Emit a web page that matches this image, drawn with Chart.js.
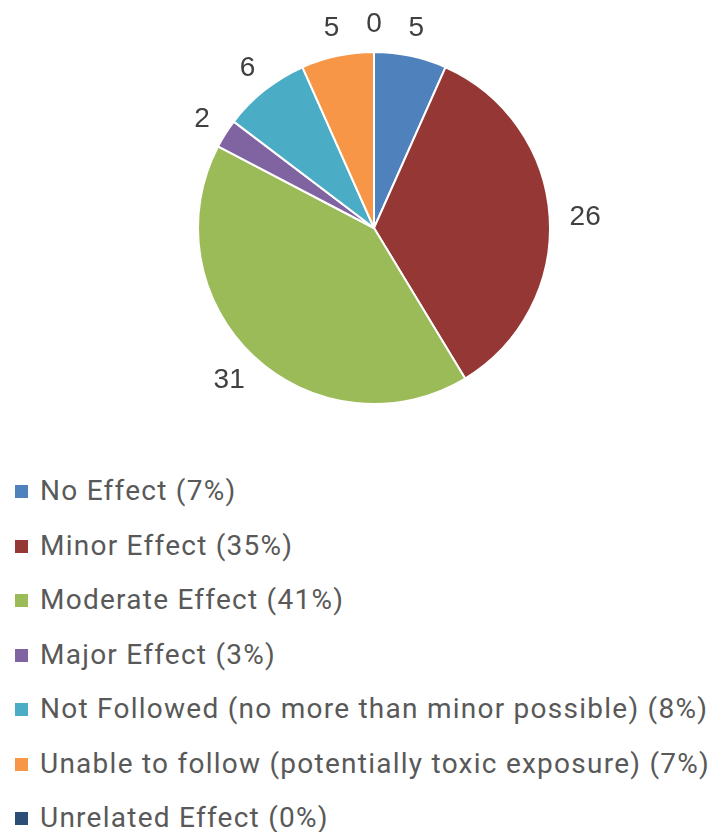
<!DOCTYPE html>
<html>
<head>
<meta charset="utf-8">
<script src="https://cdn.jsdelivr.net/npm/chart.js@4"></script>
<style>
  html, body { margin: 0; padding: 0; background: #fff; }
  #wrap { position: relative; width: 712px; height: 832px; }
  #pie-box { position: absolute; left: 0; top: 0; width: 712px; height: 460px; }
  #legend { position: absolute; left: 0; top: 464px; margin: 0; padding: 0; list-style: none; }
  #legend li {
    position: relative; height: 54.5px; line-height: 54.5px;
    font-family: Roboto, "Liberation Sans", sans-serif; font-size: 28px; color: #595959;
    letter-spacing: 1.25px;
    padding-left: 40px; white-space: nowrap;
  }
  #legend li span {
    position: absolute; left: 15px; top: 21px; width: 13px; height: 13px;
  }
</style>
</head>
<body>
<div id="wrap">
  <div id="pie-box"><canvas id="effectChart"></canvas></div>
  <ul id="legend"></ul>
</div>
<script>
// Categorías y conteos del gráfico
const categorias = [
    'No Effect',
    'Minor Effect',
    'Moderate Effect',
    'Major Effect',
    'Not Followed (no more than minor possible)',
    'Unable to follow (potentially toxic exposure)',
    'Unrelated Effect'
];
const conteos = [5, 26, 31, 2, 6, 5, 0];
const colores = ['#4f81bd', '#953735', '#9bbb59', '#8064a2', '#4bacc6', '#f79646', '#2c4d75'];

const total = conteos.reduce((a, b) => a + b, 0);

// Etiquetas de valor fuera de cada porción
const etiquetasFuera = {
    id: 'etiquetasFuera',
    afterDatasetsDraw(chart) {
        const ctx = chart.ctx;
        const meta = chart.getDatasetMeta(0);
        ctx.save();
        ctx.font = '28px "Liberation Sans", Arial, sans-serif';
        ctx.fillStyle = '#404040';
        ctx.textAlign = 'center';
        ctx.textBaseline = 'middle';
        meta.data.forEach((arc, i) => {
            const p = arc.getProps(['x', 'y', 'startAngle', 'endAngle', 'outerRadius']);
            const ang = (p.startAngle + p.endAngle) / 2;
            const dx = Math.cos(ang), dy = Math.sin(ang);
            const txt = String(conteos[i]);
            const w = ctx.measureText(txt).width;
            const h = 20;
            const r = p.outerRadius + 20;
            const x = p.x + dx * r + dx * w / 2;
            const y = p.y + dy * r + dy * h / 2;
            ctx.fillText(txt, x, y + 2);
        });
        ctx.restore();
    }
};

// Leyenda en HTML, una fila por categoría
const leyendaHtml = {
    id: 'leyendaHtml',
    afterUpdate(chart) {
        const ul = document.getElementById('legend');
        ul.innerHTML = '';
        const items = chart.options.plugins.legend.labels.generateLabels(chart);
        items.forEach((item, i) => {
            const li = document.createElement('li');
            const box = document.createElement('span');
            box.style.background = item.fillStyle;
            li.appendChild(box);
            const pct = Math.round(conteos[i] / total * 100);
            li.appendChild(document.createTextNode(categorias[i] + ' (' + pct + '%)'));
            ul.appendChild(li);
        });
    }
};

const ctxPie = document.getElementById('effectChart').getContext('2d');
new Chart(ctxPie, {
    type: 'pie',
    data: {
        labels: categorias,
        datasets: [{
            data: conteos,
            backgroundColor: colores,
            borderColor: '#ffffff',
            borderWidth: 2
        }]
    },
    options: {
        responsive: true,
        maintainAspectRatio: false,
        animation: false,
        layout: { padding: { left: 197, right: 161, top: 51, bottom: 55 } },
        plugins: {
            legend: { display: false },
            tooltip: { enabled: false }
        }
    },
    plugins: [etiquetasFuera, leyendaHtml]
});
</script>
</body>
</html>
